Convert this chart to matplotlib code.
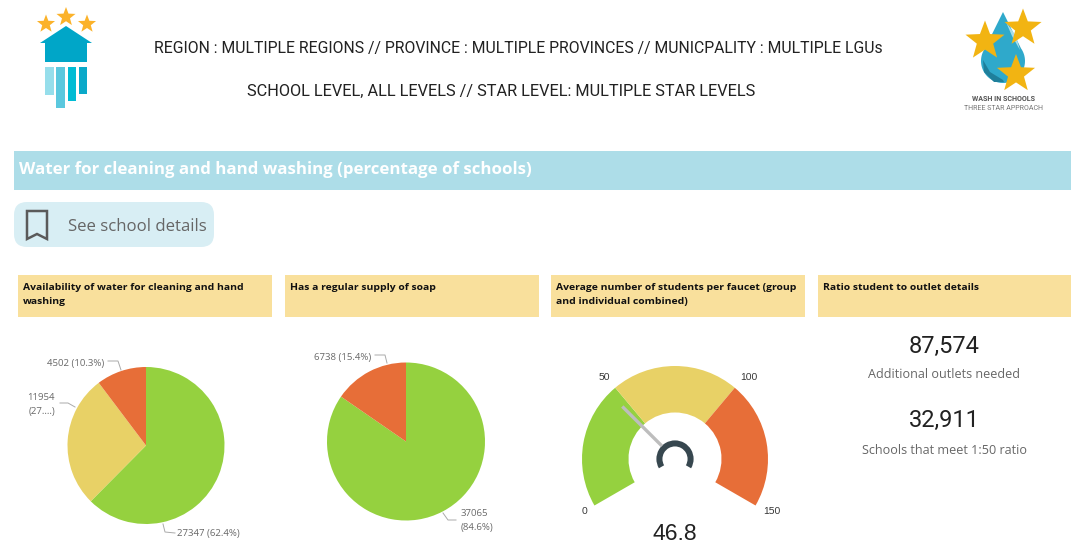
import numpy as np
import matplotlib
matplotlib.use('Agg')
import matplotlib.pyplot as plt
from matplotlib.patches import Polygon, Rectangle, FancyBboxPatch

W, H = 1071, 546

# Data
header_lines = ['REGION : MULTIPLE REGIONS // PROVINCE : MULTIPLE PROVINCES // MUNICPALITY : MULTIPLE LGUs',
                'SCHOOL LEVEL, ALL LEVELS // STAR LEVEL: MULTIPLE STAR LEVELS']
banner_title = 'Water for cleaning and hand washing (percentage of schools)'
button_text = 'See school details'
card_titles = ['Availability of water for cleaning and hand\nwashing',
               'Has a regular supply of soap',
               'Average number of students per faucet (group\nand individual combined)',
               'Ratio student to outlet details']
water_values = [27347, 11954, 4502]
soap_values = [37065, 6738]
gauge_bands = [50, 50, 50]
gauge_ticks = ['0', '50', '100', '150']
gauge_value = 46.8
gauge_max = 150
outlets_needed = '87,574'
schools_meeting = '32,911'

GREEN = '#95D13F'
YELLOW = '#E8D166'
ORANGE = '#E76E38'
GREY = '#666666'
BODY = 'Open Sans'

plt.rcParams['text.hinting'] = 'no_autohint'

fig = plt.figure(figsize=(W / 100, H / 100), dpi=100, facecolor='white')

# page axes in pixel coordinates, y going down
page = fig.add_axes([0, 0, 1, 1])
page.set_xlim(0, W)
page.set_ylim(H, 0)
page.axis('off')


def star(cx, cy, r, color, ax=page, rot=0):
    ang = np.deg2rad(np.arange(10) * 36 - 90 + rot)
    rad = np.where(np.arange(10) % 2 == 0, r, r * 0.42)
    pts = np.column_stack([cx + rad * np.cos(ang), cy + rad * np.sin(ang)])
    ax.add_patch(Polygon(pts, closed=True, fc=color, ec='none', zorder=5))


def pixel_axes(cx, cy, r):
    ax = fig.add_axes([(cx - r) / W, 1 - (cy + r) / H, 2 * r / W, 2 * r / H])
    return ax


# left logo
for cx, cy, r in [(46, 24, 9.5), (66, 17, 10), (87, 24, 9.5)]:
    star(cx, cy, r, '#FBB22A')
page.add_patch(Polygon([(66, 26), (92, 43), (87, 43), (87, 62), (45, 62), (45, 43), (40, 43)],
                       fc='#00A6C8', ec='none'))
for x0, x1, y1, c in [(45, 54, 95, '#96DEEB'), (56, 65, 108, '#5BC8DE'),
                      (67.5, 76, 101, '#00BCD4'), (78.5, 87, 94, '#0AA9C9')]:
    page.add_patch(Rectangle((x0, 67), x1 - x0, y1 - 67, fc=c, ec='none'))

# right logo
t = np.deg2rad(np.linspace(-35, 215, 60))
drop = np.column_stack([1003 + 22 * np.cos(t), 61 + 22 * np.sin(t)])
drop = np.vstack([drop, [(1003, 12)]])
page.add_patch(Polygon(drop, fc='#2FA9CB', ec='none', zorder=3))
page.add_patch(Polygon([(983, 60), (990, 72), (1003, 80), (1004, 82), (994, 82), (984, 72)],
                       fc='#1F7F9B', ec='none', zorder=4))
page.add_patch(Polygon([(1006, 22), (1016, 36), (1020, 50), (1012, 36)], fc='#A9DCEA', ec='none', zorder=4))
star(985, 41, 20.5, '#F2B412')
star(1023, 28, 19.5, '#F2B412')
star(1016, 74, 20, '#F2B412')
page.text(1004, 99.5, 'WASH IN SCHOOLS', fontsize=5.1, fontweight='bold', color='#555555',
          family='Roboto', ha='center', va='center')
page.text(1004, 108.5, 'THREE STAR APPROACH', fontsize=5.0, color='#777777',
          family='Roboto', ha='center', va='center')

# report header
page.text(518, 49, header_lines[0], fontsize=11.35, color='#222222', family='Roboto', ha='center', va='center')
page.text(501.5, 91, header_lines[1], fontsize=11.7, color='#222222', family='Roboto', ha='center', va='center')

# banner
page.add_patch(Rectangle((14, 151), W - 14, 39, fc='#ADDDE8', ec='none'))
page.text(19, 169, banner_title, fontsize=12.2, fontweight='bold', color='white', family=BODY, va='center')

# button
page.add_patch(FancyBboxPatch((14, 202), 200, 45, boxstyle='round,pad=0,rounding_size=13',
                              fc='#D8EEF4', ec='none'))
page.add_patch(Polygon([(27, 211), (47, 211), (47, 239), (37, 234), (27, 239)], closed=True,
                       fc='none', ec='#5A5A5A', lw=1.8))
page.text(68, 226.5, button_text, fontsize=12.1, color=GREY, family=BODY, va='center')

# card headers
for x0, x1, txt in zip([18, 285, 551, 818], [272, 539, 805, 1071], card_titles):
    page.add_patch(Rectangle((x0, 275), x1 - x0, 42, fc='#F9E09C', ec='none'))
    page.text(x0 + 5, 283, txt, fontsize=7.45, fontweight='bold', color='#111111', family=BODY,
              va='top', linespacing=1.75)

# pies
ax1 = pixel_axes(146, 445.5, 78.5)
ax1.pie(water_values, colors=[GREEN, YELLOW, ORANGE], startangle=90, counterclock=False, radius=1)
ax1.set_xlim(-1, 1)
ax1.set_ylim(-1, 1)

ax2 = pixel_axes(406, 441.5, 79)
ax2.pie(soap_values, colors=[GREEN, ORANGE], startangle=90, counterclock=False, radius=1)
ax2.set_xlim(-1, 1)
ax2.set_ylim(-1, 1)

pct = lambda vals, i: f'{100 * vals[i] / sum(vals):.1f}%'
lab = dict(fontsize=6.9, color=GREY, family=BODY, va='center')
page.text(104, 363, f'{water_values[2]} ({pct(water_values, 2)})', ha='right', **lab)
page.plot([108, 118, 121], [361, 361, 370], color='#AAAAAA', lw=0.7)
page.text(55, 398, f'{water_values[1]}', ha='right', **lab)
page.text(55, 412, '(27....)', ha='right', **lab)
page.plot([60, 68, 75], [403, 403, 407], color='#AAAAAA', lw=0.7)
page.text(177, 533.5, f'{water_values[0]} ({pct(water_values, 0)})', ha='left', **lab)
page.plot([163, 165, 175], [524, 532, 533], color='#AAAAAA', lw=0.7)

page.text(371, 357, f'{soap_values[1]} ({pct(soap_values, 1)})', ha='right', **lab)
page.plot([375, 385, 387], [355, 355, 363], color='#AAAAAA', lw=0.7)
page.text(460.5, 514, f'{soap_values[0]}', ha='left', **lab)
page.text(460.5, 528, f'({pct(soap_values, 0)})', ha='left', **lab)
page.plot([443, 448, 456], [513, 520, 520], color='#AAAAAA', lw=0.7)

# gauge, 150 units over 240 degrees, the rest of the ring stays empty
R = 93
ax3 = pixel_axes(675, 459, R)
hidden = gauge_max * 120 / 240
wedges, _ = ax3.pie(gauge_bands + [hidden], colors=[GREEN, YELLOW, ORANGE, 'white'], startangle=210,
                    counterclock=False, radius=1, wedgeprops=dict(width=0.5))
wedges[-1].set_visible(False)
hub, _ = ax3.pie([gauge_max, hidden], colors=['#37474F', 'white'], startangle=210, counterclock=False,
                 radius=0.2, wedgeprops=dict(width=0.065))
hub[-1].set_visible(False)
a = np.deg2rad(210 - 240 * gauge_value / gauge_max)
ax3.plot([0.2 * np.cos(a), 0.8 * np.cos(a)], [0.2 * np.sin(a), 0.8 * np.sin(a)],
         color='#BDBDBD', lw=2.4, solid_capstyle='butt')
ax3.set_xlim(-1, 1)
ax3.set_ylim(-1, 1)

glab = dict(fontsize=7.4, color='#333333', family='Liberation Sans', ha='center', va='center')
for (x, y), s in zip([(584, 512), (604, 378), (749, 378), (772, 512)], gauge_ticks):
    page.text(x, y, s, **glab)
page.text(675, 534, f'{gauge_value}', fontsize=16.5, color='#222222', family='Liberation Sans',
          ha='center', va='center')

# ratio card
page.text(944, 346, outlets_needed, fontsize=17, color='#222222', family='Roboto', ha='center', va='center')
page.text(944, 374, 'Additional outlets needed', fontsize=9.1, color=GREY, family=BODY, ha='center', va='center')
page.text(944, 421, schools_meeting, fontsize=17, color='#222222', family='Roboto', ha='center', va='center')
page.text(944, 450, 'Schools that meet 1:50 ratio', fontsize=9.05, color=GREY, family=BODY, ha='center', va='center')

fig.savefig('out.png', dpi=100)
